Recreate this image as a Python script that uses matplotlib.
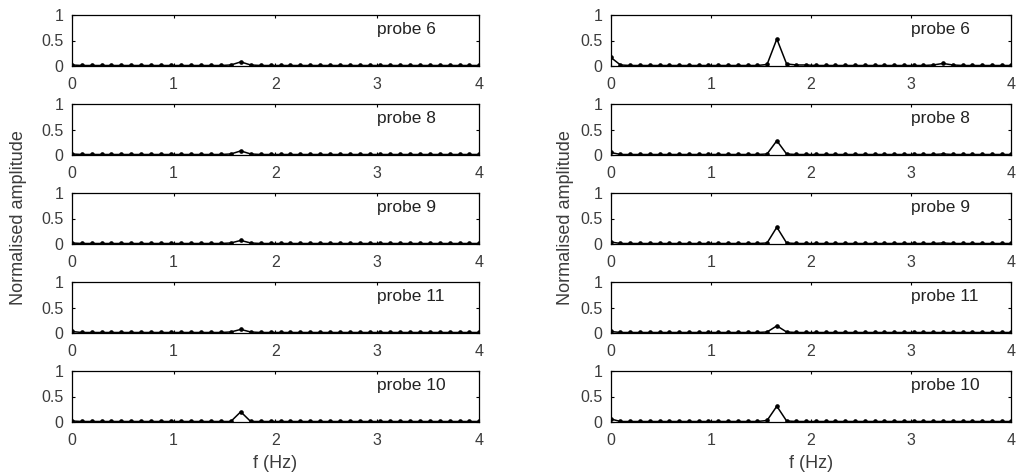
import matplotlib
matplotlib.use('Agg')
import matplotlib.pyplot as plt
import numpy as np

plt.rcParams['font.family'] = ['Liberation Sans', 'DejaVu Sans']

# frequency bins of the spectra (Hz)
freq = np.arange(42) / 10.24

probes = ['probe 6', 'probe 8', 'probe 9', 'probe 11', 'probe 10']

# normalised spectra, left column
left_amp = [
    [0.02, 0.01, 0.01, 0.01, 0.01, 0.01, 0.01, 0.01, 0.01, 0.01, 0.01, 0.01, 0.01, 0.01,
     0.01, 0.01, 0.02, 0.08, 0.02, 0.01, 0.01, 0.01, 0.01, 0.01, 0.01, 0.01, 0.01, 0.01,
     0.01, 0.01, 0.01, 0.01, 0.01, 0.01, 0.01, 0.01, 0.01, 0.01, 0.01, 0.01, 0.01, 0.01],
    [0.02, 0.01, 0.01, 0.01, 0.01, 0.01, 0.01, 0.01, 0.01, 0.01, 0.01, 0.01, 0.01, 0.01,
     0.01, 0.01, 0.02, 0.08, 0.02, 0.01, 0.01, 0.01, 0.01, 0.01, 0.01, 0.01, 0.01, 0.01,
     0.01, 0.01, 0.01, 0.01, 0.01, 0.01, 0.01, 0.01, 0.01, 0.01, 0.01, 0.01, 0.01, 0.01],
    [0.02, 0.01, 0.01, 0.01, 0.01, 0.01, 0.01, 0.01, 0.01, 0.01, 0.01, 0.01, 0.01, 0.01,
     0.01, 0.01, 0.02, 0.07, 0.02, 0.01, 0.01, 0.01, 0.01, 0.01, 0.01, 0.01, 0.01, 0.01,
     0.01, 0.01, 0.01, 0.01, 0.01, 0.01, 0.01, 0.01, 0.01, 0.01, 0.01, 0.01, 0.01, 0.01],
    [0.03, 0.01, 0.01, 0.01, 0.01, 0.01, 0.01, 0.01, 0.01, 0.01, 0.01, 0.01, 0.01, 0.01,
     0.01, 0.01, 0.02, 0.07, 0.02, 0.01, 0.01, 0.01, 0.01, 0.01, 0.01, 0.01, 0.01, 0.01,
     0.01, 0.01, 0.01, 0.01, 0.01, 0.01, 0.01, 0.01, 0.01, 0.01, 0.01, 0.01, 0.01, 0.01],
    [0.02, 0.01, 0.01, 0.01, 0.01, 0.01, 0.01, 0.01, 0.01, 0.01, 0.01, 0.01, 0.01, 0.01,
     0.01, 0.01, 0.01, 0.20, 0.01, 0.01, 0.01, 0.01, 0.01, 0.01, 0.01, 0.01, 0.01, 0.01,
     0.01, 0.01, 0.01, 0.01, 0.01, 0.01, 0.01, 0.01, 0.01, 0.01, 0.01, 0.01, 0.01, 0.01],
]

# normalised spectra, right column
right_amp = [
    [0.17, 0.02, 0.01, 0.01, 0.01, 0.01, 0.01, 0.01, 0.01, 0.01, 0.01, 0.01, 0.01, 0.01,
     0.01, 0.01, 0.03, 0.53, 0.04, 0.02, 0.02, 0.01, 0.01, 0.01, 0.01, 0.01, 0.01, 0.01,
     0.01, 0.01, 0.01, 0.01, 0.01, 0.02, 0.05, 0.02, 0.01, 0.01, 0.01, 0.01, 0.01, 0.01],
    [0.05, 0.01, 0.01, 0.01, 0.01, 0.01, 0.01, 0.01, 0.01, 0.01, 0.01, 0.01, 0.01, 0.01,
     0.01, 0.01, 0.02, 0.28, 0.02, 0.01, 0.01, 0.01, 0.01, 0.01, 0.01, 0.01, 0.01, 0.01,
     0.01, 0.01, 0.01, 0.01, 0.01, 0.01, 0.02, 0.01, 0.01, 0.01, 0.01, 0.01, 0.01, 0.01],
    [0.04, 0.01, 0.01, 0.01, 0.01, 0.01, 0.01, 0.01, 0.01, 0.01, 0.01, 0.01, 0.01, 0.01,
     0.01, 0.01, 0.02, 0.33, 0.02, 0.01, 0.01, 0.01, 0.01, 0.01, 0.01, 0.01, 0.01, 0.01,
     0.01, 0.01, 0.01, 0.01, 0.01, 0.01, 0.02, 0.01, 0.01, 0.01, 0.01, 0.01, 0.01, 0.01],
    [0.03, 0.01, 0.01, 0.01, 0.01, 0.01, 0.01, 0.01, 0.01, 0.01, 0.01, 0.01, 0.01, 0.01,
     0.01, 0.01, 0.02, 0.14, 0.02, 0.01, 0.01, 0.01, 0.01, 0.01, 0.01, 0.01, 0.01, 0.01,
     0.01, 0.01, 0.01, 0.01, 0.01, 0.01, 0.01, 0.01, 0.01, 0.01, 0.01, 0.01, 0.01, 0.01],
    [0.06, 0.01, 0.01, 0.01, 0.01, 0.01, 0.01, 0.01, 0.01, 0.01, 0.01, 0.01, 0.01, 0.01,
     0.01, 0.01, 0.03, 0.31, 0.02, 0.01, 0.01, 0.01, 0.01, 0.01, 0.01, 0.01, 0.01, 0.01,
     0.01, 0.01, 0.01, 0.01, 0.01, 0.01, 0.01, 0.01, 0.01, 0.01, 0.01, 0.01, 0.01, 0.01],
]

W, H = 1018, 474
fig = plt.figure(figsize=(W / 100, H / 100), dpi=100)

col_left = [71.7, 610.7]
col_width = [407.3, 400.3]
row_top, row_pitch, row_h = 15, 89, 51
text_col = '#3c3c3c'

for c, spectra in enumerate([left_amp, right_amp]):
    for r, amp in enumerate(spectra):
        top = row_top + r * row_pitch
        ax = fig.add_axes([col_left[c] / W, 1 - (top + row_h) / H,
                           col_width[c] / W, row_h / H])
        ax.plot(freq, amp, color='black', lw=1.1, marker='o', ms=2.3,
                mfc='black', mec='black', clip_on=True)
        ax.set_xlim(0, 4)
        ax.set_ylim(0, 1)
        ax.set_xticks([0, 1, 2, 3, 4])
        ax.set_yticks([0, 0.5, 1])
        ax.set_yticklabels(['0', '0.5', '1'])
        ax.tick_params(direction='in', length=2.5, width=0.8, top=True, right=True,
                       labelsize=11.5, labelcolor=text_col, pad=6)
        ax.tick_params(axis='x', pad=8)
        for s in ax.spines.values():
            s.set_linewidth(0.9)
        ax.text(0.75, 0.72, probes[r], transform=ax.transAxes, fontsize=12.5,
                color='#222222', va='center', ha='left')

    cx = (col_left[c] + col_width[c] / 2) / W
    fig.text(cx, 1 - 464 / H, 'f (Hz)', ha='center', va='center',
             fontsize=13, color=text_col)
    fig.text([19, 566][c] / W, 1 - 218 / H, 'Normalised amplitude', rotation=90,
             ha='center', va='center', fontsize=13, color=text_col)

fig.savefig('out.png', dpi=100, facecolor='white')
